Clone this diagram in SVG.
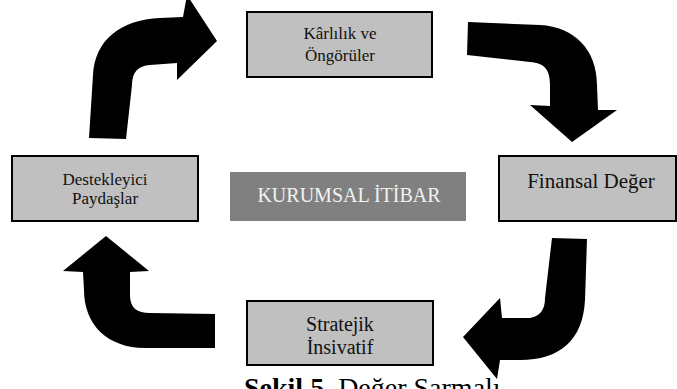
<svg xmlns="http://www.w3.org/2000/svg" width="677" height="389" viewBox="0 0 677 389">
  <style>
    .box { fill: #c0c0c0; stroke: #000; stroke-width: 2; }
    .center { fill: #808080; }
    .lbl { font-family: "Liberation Serif", "Times New Roman", serif; fill: #111; text-anchor: middle; }
    .arrow { fill: #000; }
  </style>
  <rect width="677" height="389" fill="#fff"/>

  <!-- curved flow arrows -->
  <g id="connectors">
    <path class="arrow" d="M 89,138 L 93,75 C 95,40 120,20 160,18 L 183,17 L 187,-5 L 217,41 L 177,80 L 177,63 L 150,65 C 138,66 132,72 132,85 L 126,139 Z"/>
    <path class="arrow" d="M 468,22 L 540,25 C 575,27 597,50 597,85 L 598,110 L 617,110 L 572,142 L 530,105 L 550,106 L 550,85 C 550,70 545,63 530,62 L 467,55 Z"/>
    <path class="arrow" d="M 552,238 L 587,239 L 585,300 C 583,340 560,360 520,360 L 500,360 L 497,379 L 463,337 L 500,298 L 502,318 L 530,318 C 540,316 545,310 545,298 Z"/>
    <path class="arrow" d="M 215,314 L 215,348 L 145,348 C 108,348 84,325 84,290 L 83,272 L 63,271 L 106,236 L 149,271 L 130,272 L 130,295 C 130,308 137,313 150,313 Z"/>
  </g>

  <g id="karlilik">
    <rect class="box" x="247" y="12" width="185" height="65"/>
    <text class="lbl" x="340" y="39" font-size="17">Kârlılık ve</text>
    <text class="lbl" x="340" y="61" font-size="17">Öngörüler</text>
  </g>

  <g id="finansal">
    <rect class="box" x="499" y="156" width="177" height="65"/>
    <text class="lbl" x="591" y="188" font-size="21">Finansal Değer</text>
  </g>

  <g id="stratejik">
    <rect class="box" x="247" y="301" width="186" height="64"/>
    <text class="lbl" x="340" y="331" font-size="20">Stratejik</text>
    <text class="lbl" x="340" y="354" font-size="20">İnsivatif</text>
  </g>

  <g id="destekleyici">
    <rect class="box" x="12" y="156" width="186" height="65"/>
    <text class="lbl" x="105" y="185" font-size="17">Destekleyici</text>
    <text class="lbl" x="105" y="204" font-size="17">Paydaşlar</text>
  </g>

  <g id="kurumsal">
    <rect class="center" x="230" y="172" width="236" height="49"/>
    <text class="lbl" x="349" y="202" font-size="20" style="fill:#f2f2f2">KURUMSAL İTİBAR</text>
  </g>

  <!-- figure caption, running off the bottom edge -->
  <text x="244" y="397" font-family="Liberation Serif, 'Times New Roman', serif" font-size="28" fill="#000"><tspan font-weight="bold">Şekil 5.</tspan> Değer Sarmalı</text>
</svg>
